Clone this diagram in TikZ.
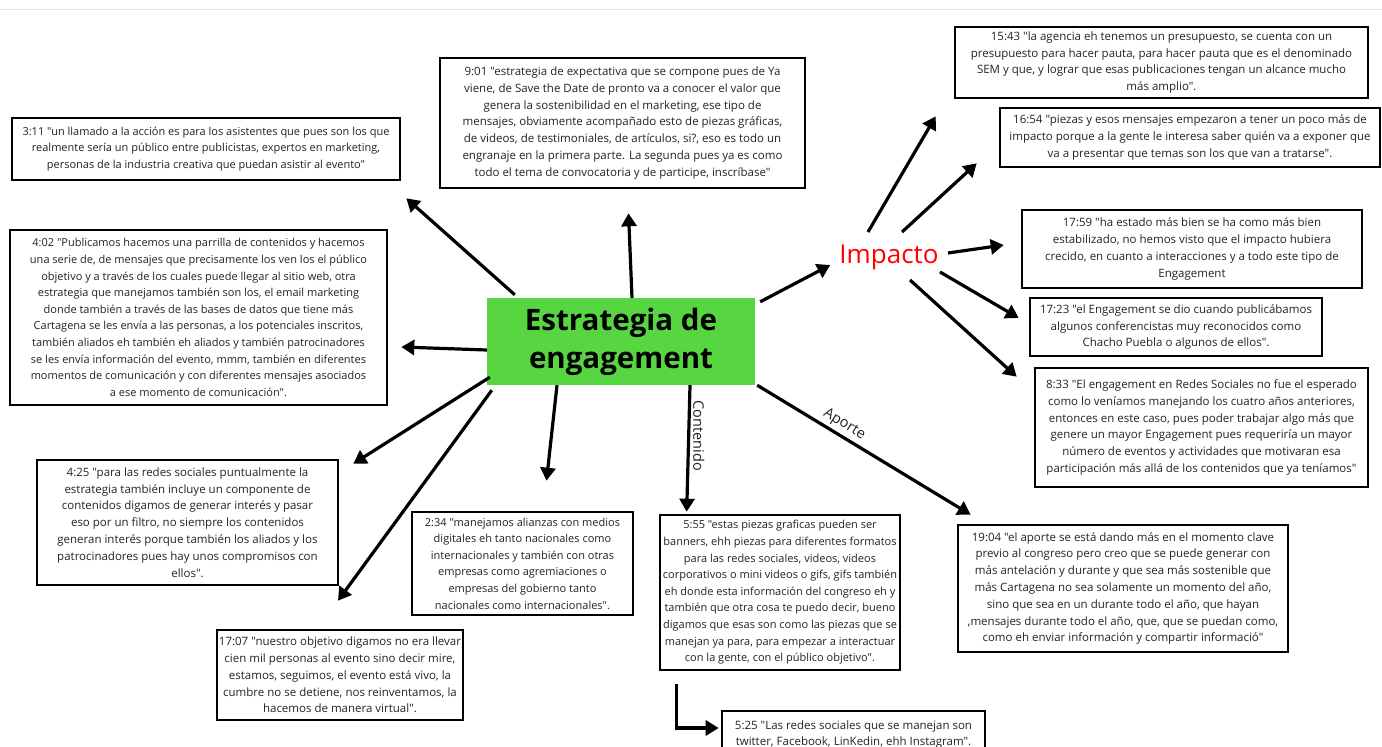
\documentclass[tikz,border=0pt]{standalone}
\usepackage{fontspec}
\setmainfont{Open Sans}[Ligatures=TeXOff]
\usetikzlibrary{arrows.meta}
\definecolor{titlegreen}{RGB}{88,214,65}
\definecolor{inkgray}{RGB}{35,35,35}
\newcommand{\qfont}{\fontsize{11.5}{16.8}\selectfont}
\newcommand{\qsmall}{\fontsize{11}{16.6}\selectfont}
\begin{document}
\begin{tikzpicture}[x=1pt,y=-1pt,
  quote/.style={draw=black,line width=2.6pt,fill=white,align=center,inner sep=2pt,text=inkgray,font=\qfont},
  arr/.style={line width=3.2pt,-{Triangle[length=13pt,width=15pt]}},
  lbl/.style={font=\fontsize{14.5}{16}\selectfont,text=inkgray,inner sep=3pt}]
\useasboundingbox (0,0) rectangle (1382,747);
\draw[black!10] (0,9) -- (1382,9);

\node[fill=titlegreen,minimum width=268pt,minimum height=87pt,align=center,font=\fontsize{29.5}{38}\selectfont\bfseries] (c) at (621,341.5) {Estrategia de\\engagement};
\node[text=red,font=\fontsize{26}{30}\selectfont,inner sep=0pt] (imp) at (889,257) {Impacto};

\node[quote,minimum width=365pt,minimum height=130pt] (b901) at (622.5,123) {9:01 "estrategia de expectativa que se compone pues de Ya\\viene, de Save the Date de pronto va a conocer el valor que\\genera la sostenibilidad en el marketing, ese tipo de\\mensajes, obviamente acompañado esto de piezas gráficas,\\de videos, de testimoniales, de artículos, si?, eso es todo un\\engranaje en la primera parte. La segunda pues ya es como\\todo el tema de convocatoria y de participe, inscríbase"};
\node[quote,font=\qsmall,minimum width=388pt,minimum height=62pt] (b311) at (206,149) {3:11 "un llamado a la acción es para los asistentes que pues son los que\\realmente sería un público entre publicistas, expertos en marketing,\\personas de la industria creativa que puedan asistir al evento"};
\node[quote,font=\qsmall,minimum width=377pt,minimum height=175pt] (b402) at (198.5,317.5) {4:02 "Publicamos hacemos una parrilla de contenidos y hacemos\\una serie de, de mensajes que precisamente los ven los el público\\objetivo y a través de los cuales puede llegar al sitio web, otra\\estrategia que manejamos también son los, el email marketing\\donde también a través de las bases de datos que tiene más\\Cartagena se les envía a las personas, a los potenciales inscritos,\\también aliados eh también eh aliados y también patrocinadores\\se les envía información del evento, mmm, también en diferentes\\momentos de comunicación y con diferentes mensajes asociados\\a ese momento de comunicación".};
\node[quote,minimum width=301pt,minimum height=125pt] (b425) at (187.5,522.5) {4:25 "para las redes sociales puntualmente la\\estrategia también incluye un componente de\\contenidos digamos de generar interés y pasar\\eso por un filtro, no siempre los contenidos\\generan interés porque también los aliados y los\\patrocinadores pues hay unos compromisos con\\ellos".};
\node[quote,font=\qsmall,minimum width=221pt,minimum height=103pt] (b234) at (522.5,563.5) {2:34 "manejamos alianzas con medios\\digitales eh tanto nacionales como\\internacionales y también con otras\\empresas como agremiaciones o\\empresas del gobierno tanto\\nacionales como internacionales".};
\node[quote,minimum width=244pt,minimum height=90pt] (b1707) at (340,675) {17:07 "nuestro objetivo digamos no era llevar\\cien mil personas al evento sino decir mire,\\estamos, seguimos, el evento está vivo, la\\cumbre no se detiene, nos reinventamos, la\\hacemos de manera virtual".};
\node[quote,font=\qsmall,minimum width=240pt,minimum height=155pt] (b555) at (780,592.5) {5:55 "estas piezas graficas pueden ser\\banners, ehh piezas para diferentes formatos\\para las redes sociales, videos, videos\\corporativos o mini videos o gifs, gifs también\\eh donde esta información del congreso eh y\\también que otra cosa te puedo decir, bueno\\digamos que esas son como las piezas que se\\manejan ya para, para empezar a interactuar\\con la gente, con el público objetivo".};
\node[quote,minimum width=263pt,minimum height=47pt] (b525) at (853.5,734.5) {5:25 "Las redes sociales que se manejan son\\twitter, Facebook, LinKedin, ehh Instagram".};
\node[quote,minimum width=413pt,minimum height=71pt] (b1543) at (1161.5,62.5) {15:43 "la agencia eh tenemos un presupuesto, se cuenta con un\\presupuesto para hacer pauta, para hacer pauta que es el denominado\\SEM y que, y lograr que esas publicaciones tengan un alcance mucho\\más amplio".};
\node[quote,minimum width=380pt,minimum height=59pt] (b1654) at (1190,137.5) {16:54 "piezas y esos mensajes empezaron a tener un poco más de\\impacto porque a la gente le interesa saber quién va a exponer que\\va a presentar que temas son los que van a tratarse".};
\node[quote,minimum width=340pt,minimum height=78pt] (b1759) at (1192,249) {17:59 "ha estado más bien se ha como más bien\\estabilizado, no hemos visto que el impacto hubiera\\crecido, en cuanto a interacciones y a todo este tipo de\\Engagement};
\node[quote,minimum width=292pt,minimum height=58pt] (b1723) at (1176,327) {17:23 "el Engagement se dio cuando publicábamos\\algunos conferencistas muy reconocidos como\\Chacho Puebla o algunos de ellos".};
\node[quote,minimum width=333pt,minimum height=119pt] (b833) at (1201.5,427.5) {8:33 "El engagement en Redes Sociales no fue el esperado\\como lo veníamos manejando los cuatro años anteriores,\\entonces en este caso, pues poder trabajar algo más que\\genere un mayor Engagement pues requeriría un mayor\\número de eventos y actividades que motivaran esa\\participación más allá de los contenidos que ya teníamos"};
\node[quote,minimum width=330pt,minimum height=127pt] (b1904) at (1123,588.5) {19:04 "el aporte se está dando más en el momento clave\\previo al congreso pero creo que se puede generar con\\más antelación y durante y que sea más sostenible que\\más Cartagena no sea solamente un momento del año,\\sino que sea en un durante todo el año, que hayan\\,mensajes durante todo el año, que, que se puedan como,\\como eh enviar información y compartir informació"};

\draw[arr] ([xshift=11pt]c.north) -- ([xshift=6pt,yshift=-24pt]b901.south);
\draw[arr] ([xshift=28pt,yshift=3pt]c.north west) -- ([xshift=5pt,yshift=-17pt]b311.south east);
\draw[arr] ([yshift=-8.5pt]c.west) -- ([xshift=13pt,yshift=-29.5pt]b402.east);
\draw[arr] ([xshift=3pt,yshift=8pt]c.south west) -- ([xshift=14pt,yshift=-5pt]b425.north east);
\draw[arr] ([xshift=-64pt]c.south) -- ([xshift=24pt,yshift=30pt]b234.north);
\draw[arr] ([xshift=5pt,yshift=-5pt]c.south west) -- ([xshift=-2pt,yshift=28pt]b1707.north);
\draw[arr] ([xshift=69pt]c.south) -- node[lbl,pos=0.4,rotate=-90,anchor=south] {Contenido} ([xshift=28pt,yshift=2pt]b555.north west);
\draw[arr] ([xshift=2pt]c.south east) -- node[lbl,pos=0.38,sloped,above] {Aporte} ([xshift=14pt,yshift=9pt]b1904.north west);
\draw[arr] ([xshift=5pt,yshift=-4pt]c.north east) -- ([xshift=-9pt,yshift=-8pt]imp.west);
\draw[arr] ([xshift=-21pt,yshift=25pt]imp.center) -- ([xshift=-18pt,yshift=-17pt]b1543.south west);
\draw[arr] ([xshift=13pt,yshift=25pt]imp.center) -- ([xshift=-22pt,yshift=5pt]b1654.south west);
\draw[arr] ([xshift=59pt,yshift=4pt]imp.center) -- ([xshift=-17pt,yshift=4pt]b1759.west);
\draw[arr] ([xshift=51pt,yshift=-15pt]imp.center) -- ([xshift=-10pt,yshift=9pt]b1723.west);
\draw[arr] ([xshift=21pt,yshift=-23pt]imp.center) -- ([xshift=-17pt,yshift=-10pt]b833.north west);
\draw[arr] ([xshift=18pt,yshift=-13pt]b555.south west) |- ([xshift=-2pt,yshift=6.5pt]b525.west);

\end{tikzpicture}
\end{document}
